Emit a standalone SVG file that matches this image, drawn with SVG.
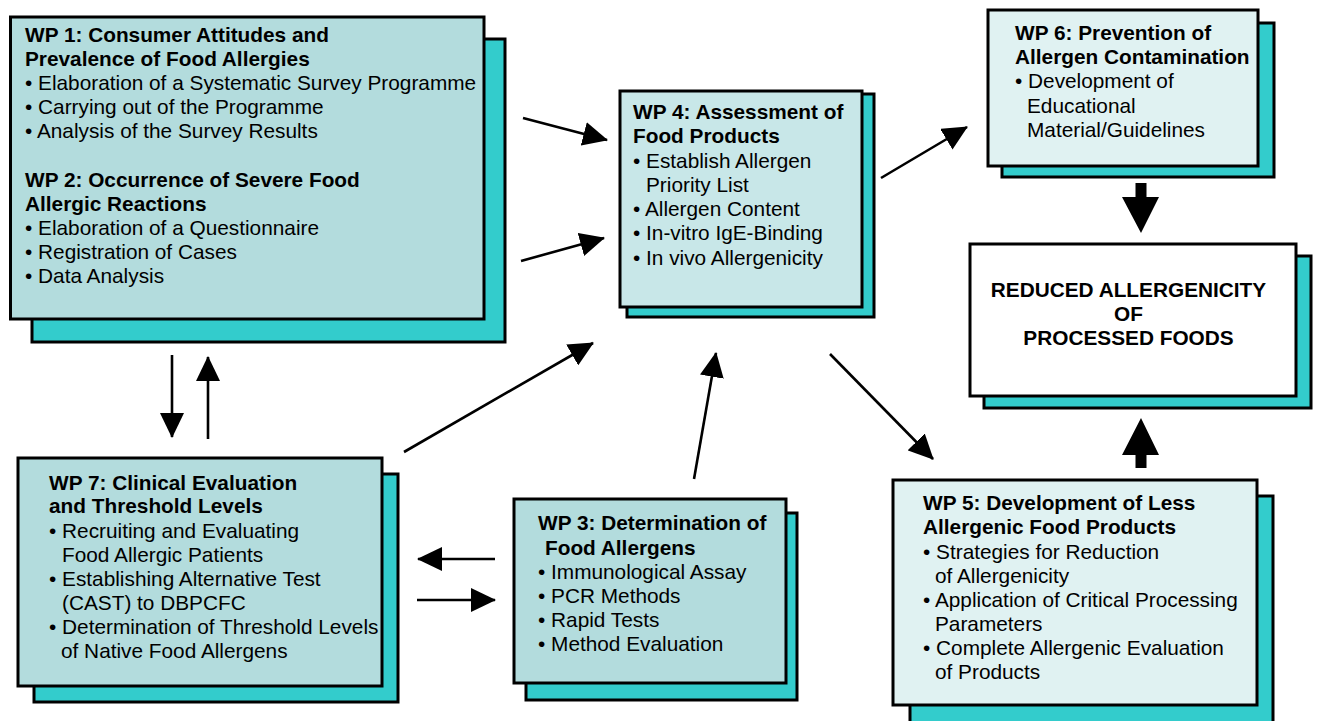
<svg xmlns="http://www.w3.org/2000/svg" width="1318" height="721" viewBox="0 0 1318 721">
<defs>
<style>
.sh{fill:#33cccc;stroke:#000;stroke-width:3}
.fa{fill:#b3dcdd;stroke:#000;stroke-width:3}
.fb{fill:#c8e7e8;stroke:#000;stroke-width:3}
.fc{fill:#e0f2f2;stroke:#000;stroke-width:3}
.fw{fill:#fff;stroke:#000;stroke-width:3}
text{font-family:"Liberation Sans",Arial,sans-serif;font-size:20.8px;fill:#000}
.b{font-weight:bold}
.ln{stroke:#000;stroke-width:2.6;fill:none;marker-end:url(#ah)}
</style>
<marker id="ah" markerUnits="userSpaceOnUse" viewBox="0 0 25 24" markerWidth="25" markerHeight="24" refX="24" refY="12" orient="auto">
<path d="M0,0 L25,12 L0,24 Z" fill="#000"/>
</marker>
</defs>
<rect width="1318" height="721" fill="#fff"/>

<g id="wp1">
<rect class="sh" x="32" y="39" width="473" height="303"/>
<rect class="fa" x="10.5" y="17" width="473.5" height="302"/>
<text class="b" x="25" y="42">WP 1: Consumer Attitudes and</text>
<text class="b" x="25" y="66">Prevalence of Food Allergies</text>
<text x="25" y="90">• Elaboration of a Systematic Survey Programme</text>
<text x="25" y="114">• Carrying out of the Programme</text>
<text x="25" y="138">• Analysis of the Survey Results</text>
<text class="b" x="25" y="187">WP 2: Occurrence of Severe Food</text>
<text class="b" x="25" y="211">Allergic Reactions</text>
<text x="25" y="235">• Elaboration of a Questionnaire</text>
<text x="25" y="259">• Registration of Cases</text>
<text x="25" y="283">• Data Analysis</text>
</g>

<g id="wp4">
<rect class="sh" x="627" y="94" width="247" height="223"/>
<rect class="fb" x="620" y="91" width="242" height="216"/>
<text class="b" x="633" y="119">WP 4: Assessment of</text>
<text class="b" x="633" y="143">Food Products</text>
<text x="633" y="168">• Establish Allergen</text>
<text x="646" y="192">Priority List</text>
<text x="633" y="216">• Allergen Content</text>
<text x="633" y="240">• In-vitro IgE-Binding</text>
<text x="633" y="265">• In vivo Allergenicity</text>
</g>

<g id="wp6">
<rect class="sh" x="1002" y="23" width="272" height="154"/>
<rect class="fc" x="988" y="10" width="270" height="156"/>
<text class="b" x="1015" y="40">WP 6: Prevention of</text>
<text class="b" x="1015" y="64">Allergen Contamination</text>
<text x="1015" y="88">• Development of</text>
<text x="1027" y="113">Educational</text>
<text x="1027" y="137">Material/Guidelines</text>
</g>

<g id="result">
<rect class="sh" x="984" y="256" width="327" height="152"/>
<rect class="fw" x="970" y="244" width="326" height="152"/>
<text class="b" x="1128.5" y="297" text-anchor="middle">REDUCED ALLERGENICITY</text>
<text class="b" x="1128.5" y="321" text-anchor="middle">OF</text>
<text class="b" x="1128.5" y="345" text-anchor="middle">PROCESSED FOODS</text>
</g>

<g id="wp5">
<rect class="sh" x="910" y="496" width="363" height="240"/>
<rect class="fc" x="893" y="480" width="364" height="225"/>
<text class="b" x="923" y="510">WP 5: Development of Less</text>
<text class="b" x="923" y="534">Allergenic Food Products</text>
<text x="923" y="559">• Strategies for Reduction</text>
<text x="935" y="583">of Allergenicity</text>
<text x="923" y="607">• Application of Critical Processing</text>
<text x="935" y="631">Parameters</text>
<text x="923" y="655">• Complete Allergenic Evaluation</text>
<text x="935" y="679">of Products</text>
</g>

<g id="wp7">
<rect class="sh" x="34" y="474" width="364" height="228"/>
<rect class="fa" x="18" y="458" width="364" height="228"/>
<text class="b" x="49" y="490">WP 7: Clinical Evaluation</text>
<text class="b" x="49" y="513">and Threshold Levels</text>
<text x="49" y="538">• Recruiting and Evaluating</text>
<text x="62" y="562">Food Allergic Patients</text>
<text x="49" y="586">• Establishing Alternative Test</text>
<text x="62" y="610">(CAST) to DBPCFC</text>
<text x="49" y="634">• Determination of Threshold Levels</text>
<text x="61" y="658">of Native Food Allergens</text>
</g>

<g id="wp3">
<rect class="sh" x="526" y="513" width="271" height="187"/>
<rect class="fa" x="514" y="499" width="272" height="184"/>
<text class="b" x="538" y="530">WP 3: Determination of</text>
<text class="b" x="545" y="555">Food Allergens</text>
<text x="538" y="579">• Immunological Assay</text>
<text x="538" y="603">• PCR Methods</text>
<text x="538" y="627">• Rapid Tests</text>
<text x="538" y="651">• Method Evaluation</text>
</g>

<g id="connectors">
<line class="ln" x1="523" y1="118" x2="607" y2="140"/>
<line class="ln" x1="521" y1="261" x2="604" y2="238"/>
<line class="ln" x1="404" y1="452" x2="593" y2="343"/>
<line class="ln" x1="694" y1="479" x2="716" y2="353"/>
<line class="ln" x1="881" y1="178" x2="967" y2="127"/>
<line class="ln" x1="830" y1="354" x2="933" y2="459"/>
<line class="ln" x1="172" y1="355" x2="172" y2="437"/>
<line class="ln" x1="208" y1="439" x2="208" y2="357"/>
<line class="ln" x1="495" y1="559" x2="418" y2="559"/>
<line class="ln" x1="417" y1="600" x2="495" y2="600"/>
<path d="M1135.5,183 H1146.5 V197 H1159 L1141,233 L1122,197 H1135.5 Z" fill="#000"/>
<path d="M1135.5,468 H1146.5 V455 H1159 L1141,418 L1122,455 H1135.5 Z" fill="#000"/>
</g>
</svg>
